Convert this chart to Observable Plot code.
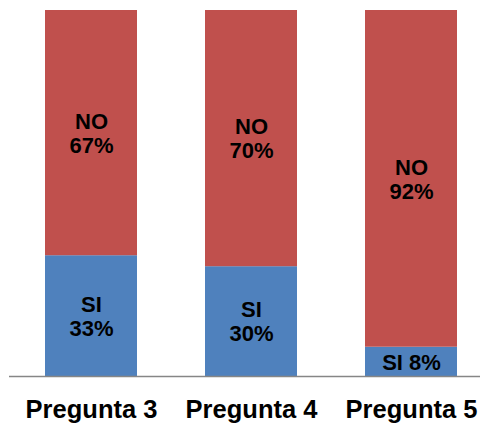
<!DOCTYPE html>
<html>
<head>
<meta charset="utf-8">
<script src="https://cdn.jsdelivr.net/npm/d3@7"></script>
<script src="https://cdn.jsdelivr.net/npm/@observablehq/plot@0.6"></script>
<style>
  html, body { margin: 0; padding: 0; background: #fff; }
  #chart svg { display: block; }
</style>
</head>
<body>
<div id="chart"></div>
<script>
// Survey answers per question (percent of respondents)
const preguntas = ["Pregunta 3", "Pregunta 4", "Pregunta 5"];
const respuestas = ["SI", "NO"];
const si = [33, 30, 8];
const no = [67, 70, 92];
const colores = ["#4F81BD", "#C0504D"];

// Long-format table for stacking
const rows = [];
preguntas.forEach((p, i) => {
  rows.push({pregunta: p, respuesta: "SI", valor: si[i]});
  rows.push({pregunta: p, respuesta: "NO", valor: no[i]});
});

// Short segments get a single-line label
const etiqueta = d => d.valor < 15 ? `${d.respuesta} ${d.valor}%` : `${d.respuesta}\n${d.valor}%`;

const chart = Plot.plot({
  width: 480,
  height: 423,
  marginTop: 10,
  marginBottom: 47,
  marginLeft: 9,
  marginRight: 0,
  style: {fontFamily: "'Liberation Sans', Arial, sans-serif", background: "#fff", color: "#000"},
  x: {domain: preguntas, range: [44, 457], paddingInner: 0.427, paddingOuter: 0, label: null},
  y: {domain: [0, 100], axis: null},
  color: {domain: respuestas, range: colores},
  marks: [
    Plot.barY(rows, {x: "pregunta", y: "valor", fill: "respuesta", order: respuestas}),
    Plot.text(rows, Plot.stackY({
      x: "pregunta", y: "valor", z: "respuesta", order: respuestas,
      text: etiqueta,
      fontSize: 22, fontWeight: "bold", fill: "#000", lineHeight: 1.1
    })),
    Plot.ruleY([0], {stroke: "#868686", strokeWidth: 1.5}),
    Plot.axisX({tickSize: 0, tickPadding: 23, fontSize: 25.5, fontWeight: "bold", label: null})
  ]
});

document.getElementById("chart").appendChild(chart);
</script>
</body>
</html>
